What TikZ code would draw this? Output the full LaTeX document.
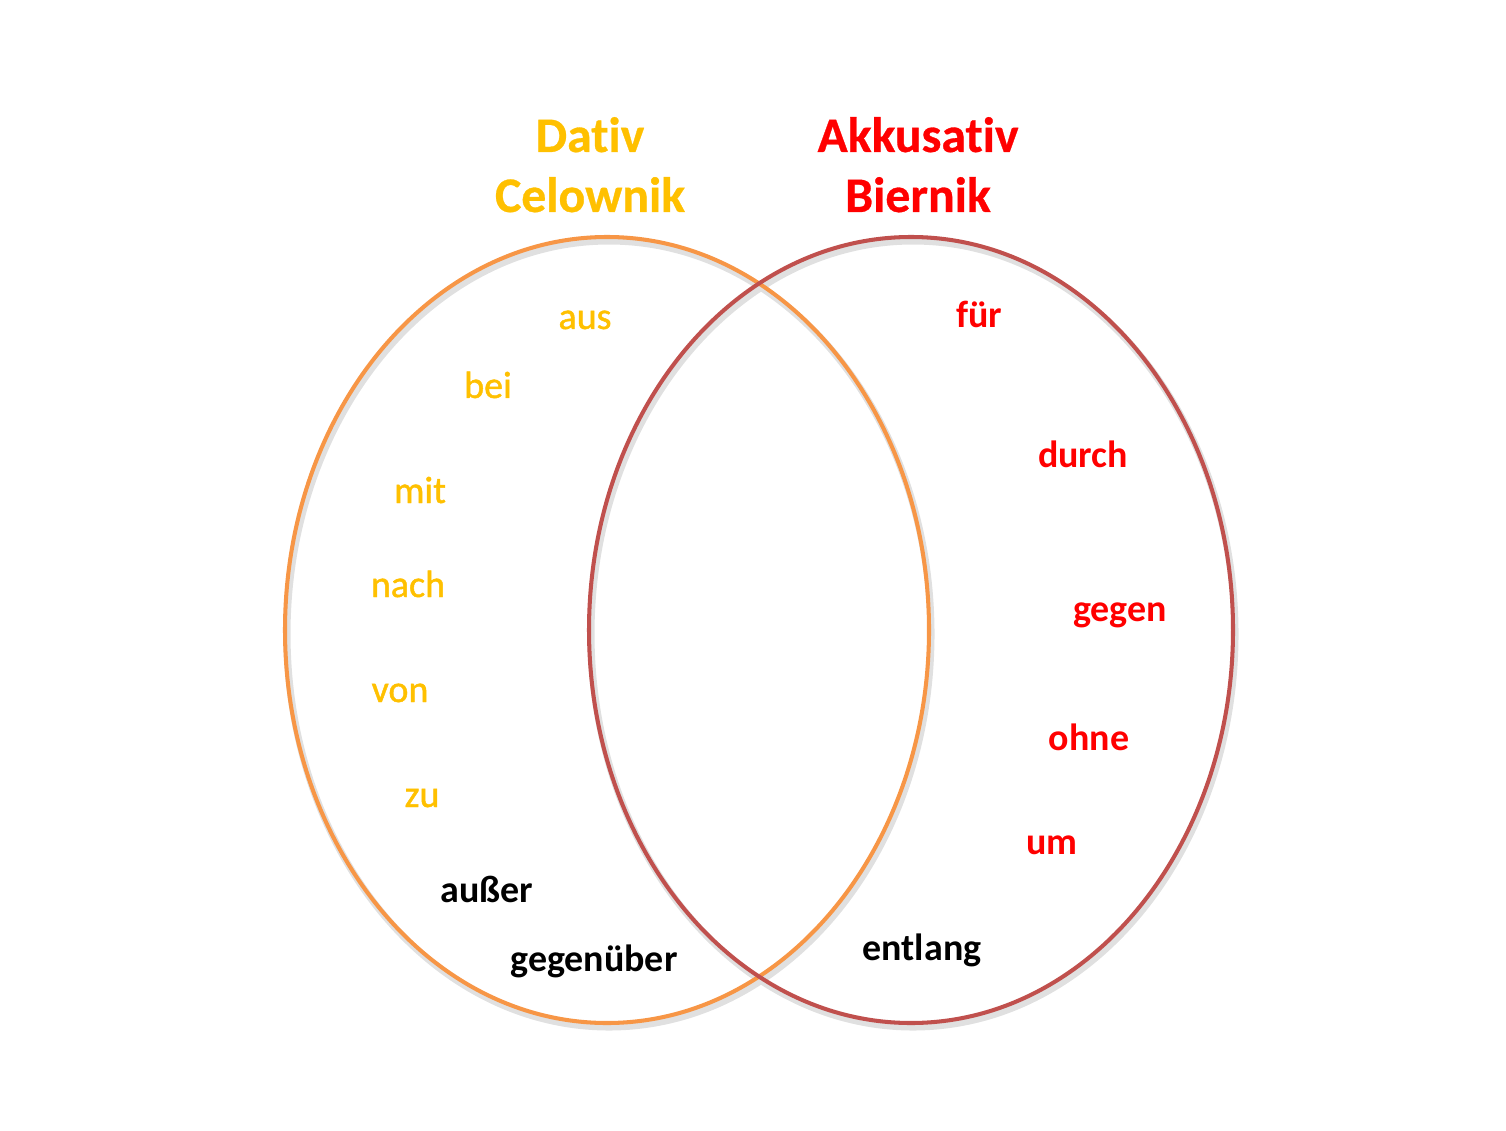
\documentclass[tikz,border=0pt]{standalone}
\usepackage{fontspec}
\setmainfont{Carlito}[Ligatures=NoCommon]
\newfontface\dativface[FakeBold=1.2,Ligatures=NoCommon]{Carlito}
\newfontface\titleface[FakeBold=0.6,Ligatures=NoCommon]{Carlito Bold}
\usetikzlibrary{positioning}
\definecolor{dativline}{HTML}{F79646}
\definecolor{akkline}{HTML}{C0504D}
\definecolor{dativtext}{HTML}{FFC000}
\definecolor{akktext}{HTML}{FF0000}

\begin{document}
\begin{tikzpicture}[x=0.02cm,y=-0.02cm,node distance=1.2cm,
    title node/.style={anchor=base,inner sep=0pt,font=\fontsize{28.3}{30}\titleface},
    dativ word/.style={anchor=base,inner sep=0pt,text=dativtext,font=\fontsize{21.6}{24}\dativface},
    akk word/.style={anchor=base,inner sep=0pt,text=akktext,font=\fontsize{21.6}{24}\selectfont\bfseries},
    both word/.style={anchor=base,inner sep=0pt,text=black,font=\fontsize{21.6}{24}\selectfont\bfseries},
    ring shadow/.style={draw=black!12,line width=4pt}]

    \useasboundingbox (0,0) rectangle (1506,1131);

    % shadows of the two circles
    \draw[ring shadow] (609,634) ellipse [x radius=322,y radius=393];
    \draw[ring shadow] (913,634) ellipse [x radius=322,y radius=393];

    \draw[dativline,line width=2.3pt] (607,630) ellipse [x radius=322,y radius=393];
    \draw[akkline,line width=2.3pt] (911,630) ellipse [x radius=322,y radius=393];

    % titles
    \node[title node,text=dativtext] (dat) at (590,152) {Dativ};
    \node[title node,text=dativtext] (cel) at (590,212) {Celownik};
    \node[title node,text=akktext] (akk) at (918,152) {Akkusativ};
    \node[title node,text=akktext] (bie) at (918,212) {Biernik};

    % Dativ
    \node[dativ word] (aus) at (585,329) {aus};
    \node[dativ word] (bei) at (488,398) {bei};
    \node[dativ word] (mit) at (420,503) {mit};
    \node[dativ word] (nach) at (408,597) {nach};
    \node[dativ word] (von) at (400,702) {von};
    \node[dativ word] (zu) at (422,807) {zu};
    \node[both word] (ausser) at (487,902) {außer};
    \node[both word] (gegenueber) at (594,971) {gegenüber};

    % Akkusativ
    \node[akk word] (fuer) at (979,328) {für};
    \node[akk word] (durch) at (1083,467) {durch};
    \node[akk word] (gegen) at (1120,621) {gegen};
    \node[akk word] (ohne) at (1089,750) {ohne};
    \node[akk word] (um) at (1052,854) {um};
    \node[both word] (entlang) at (922,960) {entlang};
\end{tikzpicture}
\end{document}
